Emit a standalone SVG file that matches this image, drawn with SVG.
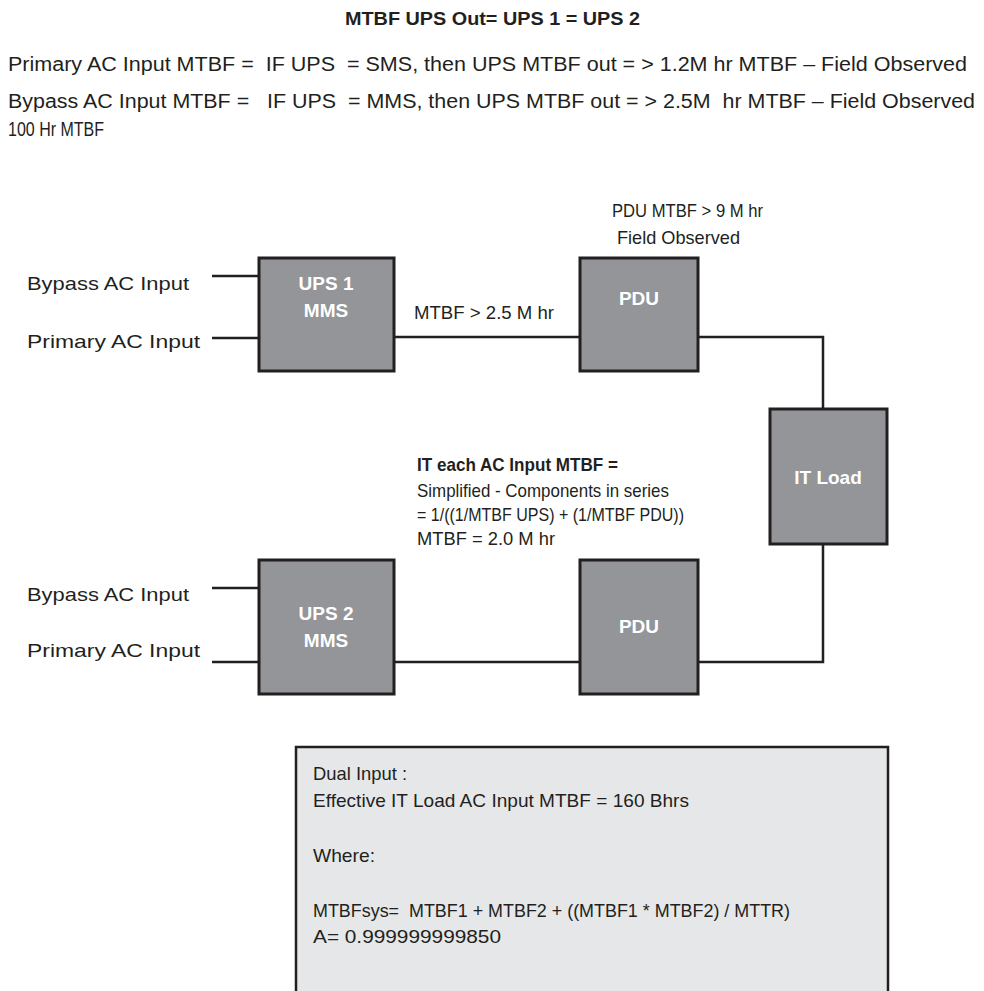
<svg xmlns="http://www.w3.org/2000/svg" width="984" height="991" viewBox="0 0 984 991">
<style>
.t{font-family:"Liberation Sans",Arial,sans-serif;font-size:19px;fill:#231f20}
.h{font-size:20px}
.b{font-weight:bold}
.n{fill:#939598;stroke:#231f20;stroke-width:3}
.nl{font-family:"Liberation Sans",Arial,sans-serif;font-size:19px;font-weight:bold;fill:#ffffff;text-anchor:middle}
.c{fill:none;stroke:#231f20;stroke-width:2.5}
</style>
<rect width="984" height="991" fill="#ffffff"/>
<g id="header">
<text class="t b" x="345" y="25" textLength="295" lengthAdjust="spacingAndGlyphs">MTBF UPS Out= UPS 1 = UPS 2</text>
<text class="t h" x="8" y="71" textLength="959" lengthAdjust="spacingAndGlyphs" xml:space="preserve">Primary AC Input MTBF =  IF UPS  = SMS, then UPS MTBF out = &gt; 1.2M hr MTBF – Field Observed</text>
<text class="t h" x="8" y="108" textLength="967" lengthAdjust="spacingAndGlyphs" xml:space="preserve">Bypass AC Input MTBF =   IF UPS  = MMS, then UPS MTBF out = &gt; 2.5M  hr MTBF – Field Observed</text>
<text class="t h" x="8" y="136" textLength="96" lengthAdjust="spacingAndGlyphs">100 Hr MTBF</text>
</g>
<g id="connectors">
<line class="c" x1="212" y1="276" x2="259" y2="276"/>
<line class="c" x1="212" y1="338" x2="259" y2="338"/>
<line class="c" x1="394" y1="337" x2="580" y2="337"/>
<polyline class="c" points="698,337 823,337 823,409"/>
<line class="c" x1="212" y1="588" x2="259" y2="588"/>
<line class="c" x1="212" y1="662" x2="259" y2="662"/>
<line class="c" x1="394" y1="662" x2="580" y2="662"/>
<polyline class="c" points="698,662 823,662 823,544"/>
</g>
<g id="labels">
<text class="t" x="27" y="290" textLength="162" lengthAdjust="spacingAndGlyphs">Bypass AC Input</text>
<text class="t" x="27" y="348" textLength="173" lengthAdjust="spacingAndGlyphs">Primary AC Input</text>
<text class="t" x="27" y="601" textLength="162" lengthAdjust="spacingAndGlyphs">Bypass AC Input</text>
<text class="t" x="27" y="657" textLength="173" lengthAdjust="spacingAndGlyphs">Primary AC Input</text>
<text class="t" x="414" y="319" textLength="140" lengthAdjust="spacingAndGlyphs">MTBF &gt; 2.5 M hr</text>
<text class="t" x="612" y="217" textLength="151" lengthAdjust="spacingAndGlyphs">PDU MTBF &gt; 9 M hr</text>
<text class="t" x="617" y="244" textLength="123" lengthAdjust="spacingAndGlyphs">Field Observed</text>
<text class="t b" x="417" y="471" textLength="201" lengthAdjust="spacingAndGlyphs">IT each AC Input MTBF =</text>
<text class="t" x="417" y="497" textLength="252" lengthAdjust="spacingAndGlyphs">Simplified - Components in series</text>
<text class="t" x="417" y="521" textLength="267" lengthAdjust="spacingAndGlyphs">= 1/((1/MTBF UPS) + (1/MTBF PDU))</text>
<text class="t" x="417" y="545" textLength="138" lengthAdjust="spacingAndGlyphs">MTBF = 2.0 M hr</text>
</g>
<g id="ups1">
<rect class="n" x="259" y="258" width="135" height="113"/>
<text class="nl" x="326" y="290">UPS 1</text>
<text class="nl" x="326" y="317">MMS</text>
</g>
<g id="pdu1">
<rect class="n" x="580" y="258" width="118" height="113"/>
<text class="nl" x="639" y="305">PDU</text>
</g>
<g id="itload">
<rect class="n" x="770" y="409" width="117" height="135"/>
<text class="nl" x="828" y="484">IT Load</text>
</g>
<g id="ups2">
<rect class="n" x="259" y="560" width="135" height="134"/>
<text class="nl" x="326" y="620">UPS 2</text>
<text class="nl" x="326" y="647">MMS</text>
</g>
<g id="pdu2">
<rect class="n" x="580" y="560" width="118" height="134"/>
<text class="nl" x="639" y="633">PDU</text>
</g>
<g id="summary">
<rect x="296" y="747" width="592" height="260" fill="#e6e7e8" stroke="#231f20" stroke-width="2.5"/>
<text class="t" x="313" y="780" textLength="94" lengthAdjust="spacingAndGlyphs">Dual Input :</text>
<text class="t" x="313" y="807" textLength="376" lengthAdjust="spacingAndGlyphs">Effective IT Load AC Input MTBF = 160 Bhrs</text>
<text class="t" x="313" y="862" textLength="62" lengthAdjust="spacingAndGlyphs">Where:</text>
<text class="t" x="313" y="917" textLength="477" lengthAdjust="spacingAndGlyphs" xml:space="preserve">MTBFsys=  MTBF1 + MTBF2 + ((MTBF1 * MTBF2) / MTTR)</text>
<text class="t" x="313" y="943" textLength="188" lengthAdjust="spacingAndGlyphs">A= 0.999999999850</text>
</g>
</svg>
